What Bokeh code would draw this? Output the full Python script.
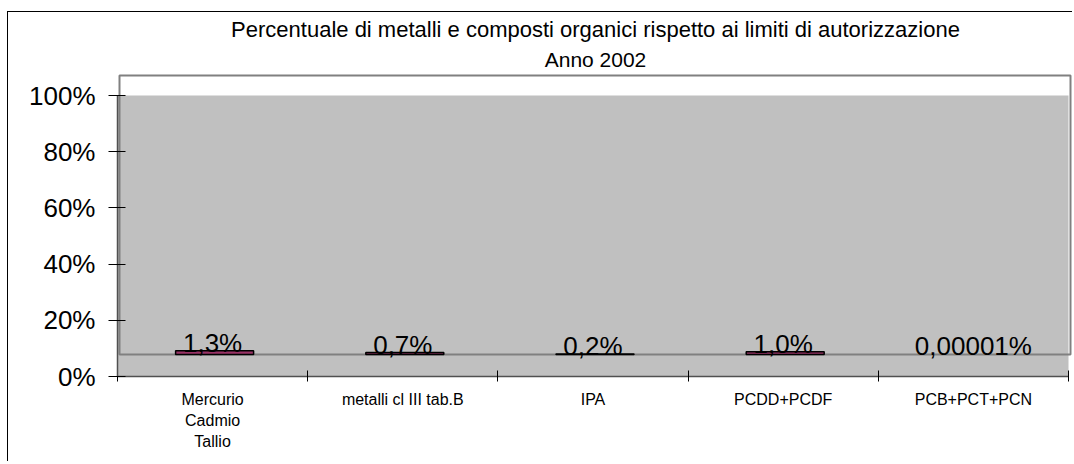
from bokeh.plotting import figure
from bokeh.models import (Range1d, LinearAxis, FixedTicker,
                          PrintfTickFormatter, Title, ColumnDataSource)
from bokeh.core.properties import value
from bokeh.embed import file_html
from bokeh.resources import INLINE

# ---------------- data ----------------
categories = ["Mercurio\nCadmio\nTallio", "metalli cl III tab.B", "IPA",
              "PCDD+PCDF", "PCB+PCT+PCN"]
percent_values = [1.3, 0.7, 0.2, 1.0, 0.00001]
value_labels = ["1,3%", "0,7%", "0,2%", "1,0%", "0,00001%"]
y_ticks = [0, 20, 40, 60, 80, 100]
title_line1 = "Percentuale di metalli e composti organici rispetto ai limiti di autorizzazione"
title_line2 = "Anno 2002"

# ---------------- layout / style ----------------
FONT = "Liberation Sans"
W, H = 1065, 450
MB_TOP, MB_BOTTOM, MB_LEFT, MB_RIGHT = 61, 86, 109, 0
DEPTH_Y = 22      # pseudo-3D depth of the back wall (px, upwards)
DEPTH_X = 2       # pseudo-3D depth of the back wall (px, rightwards)
TOP_PAD = 2       # space between frame top and back wall top (px)
PLOT_W = 951      # px width of the category area

frame_h = H - MB_TOP - MB_BOTTOM
frame_w = W - MB_LEFT - MB_RIGHT
y_max = y_ticks[-1]
wall_h = frame_h - DEPTH_Y - TOP_PAD
u_y = y_max / (frame_h - DEPTH_Y)          # data units per px (front)
n = len(categories)
u_x = n / PLOT_W

centers = [i + 0.5 for i in range(n)]       # category slots on the x scale
bounds = [float(i) for i in range(n + 1)]

p = figure(width=W, height=H,
           x_range=Range1d(0, frame_w * u_x),
           y_range=Range1d(0, frame_h * u_y),
           output_backend="svg", toolbar_location=None, title=None,
           x_axis_location=None,
           min_border_top=MB_TOP, min_border_bottom=MB_BOTTOM,
           min_border_left=MB_LEFT, min_border_right=MB_RIGHT)
u_back = y_max / wall_h
p.extra_y_ranges = {"back": Range1d(-DEPTH_Y * u_back, y_max + TOP_PAD * u_back)}
p.extra_x_ranges = {"back": Range1d(-DEPTH_X * u_x, (frame_w - DEPTH_X) * u_x)}

p.background_fill_color = "white"
p.border_fill_color = "white"
p.outline_line_color = None
p.grid.visible = False
p.styles = {"border-left": "1px solid black", "border-top": "1px solid black",
            "position": "relative", "top": "11px", "left": "7px"}

# titles (first added = closest to the plot)
p.add_layout(Title(text=title_line2, align="center", text_font=FONT,
                   text_font_size="21px", text_font_style="normal",
                   text_color="black", standoff=6, offset=-5), "above")
p.add_layout(Title(text=title_line1, align="center", text_font=FONT,
                   text_font_size="22px", text_font_style="normal",
                   text_color="black", standoff=2, offset=-4), "above")

# front grey area (walls)
p.quad(left=[bounds[0]], right=[bounds[-1]], bottom=[y_ticks[0]], top=[y_max],
       fill_color="#C0C0C0", line_color=None)
# back wall outline
p.quad(left=[bounds[0]], right=[bounds[-1]], bottom=[0], top=[y_max],
       x_range_name="back", y_range_name="back",
       fill_color=None, line_color="#808080", line_width=2)

# bars
src = ColumnDataSource(dict(
    x=centers, val=percent_values, lab=value_labels,
    la=[1.0 if v >= 0.01 else 0.0 for v in percent_values]))
p.vbar(x="x", top="val", bottom=0, width=0.41, source=src,
       x_range_name="back", y_range_name="back",
       fill_color="#993366", line_color="black",
       line_width=1.5, line_alpha="la", fill_alpha="la")
p.text(x="x", y="val", text="lab", source=src, y_range_name="back",
       text_align="center", text_baseline="middle", y_offset=-8,
       text_font=value(FONT), text_font_size="26px", text_color="black")

# y axis
ya = p.yaxis[0]
ya.bounds = (y_ticks[0], y_max)
ya.ticker = FixedTicker(ticks=y_ticks)
ya.formatter = PrintfTickFormatter(format="%d%%")
ya.axis_line_color = "#505050"
ya.axis_line_width = 1.5
ya.major_tick_line_color = "black"
ya.major_tick_out = 9
ya.major_tick_in = 8
ya.minor_tick_line_color = None
ya.major_label_text_font = FONT
ya.major_label_text_font_size = "26px"
ya.major_label_text_color = "black"
ya.major_label_standoff = 13

# x axis: tick marks at category boundaries, labels at centres
xa = LinearAxis(ticker=FixedTicker(ticks=centers, minor_ticks=bounds),
                bounds=(bounds[0], bounds[-1]),
                major_label_overrides={c: lab for c, lab in zip(centers, categories)})
xa.axis_line_color = "#505050"
xa.axis_line_width = 1.5
xa.major_tick_line_color = None
xa.major_tick_out = 0
xa.major_tick_in = 0
xa.minor_tick_line_color = "black"
xa.minor_tick_out = 5
xa.minor_tick_in = 6
xa.major_label_text_font = FONT
xa.major_label_text_font_size = "16px"
xa.major_label_text_color = "black"
xa.major_label_text_line_height = 1.25
xa.major_label_standoff = 9
p.add_layout(xa, "below")

open("out.html", "w").write(file_html(p, INLINE))
